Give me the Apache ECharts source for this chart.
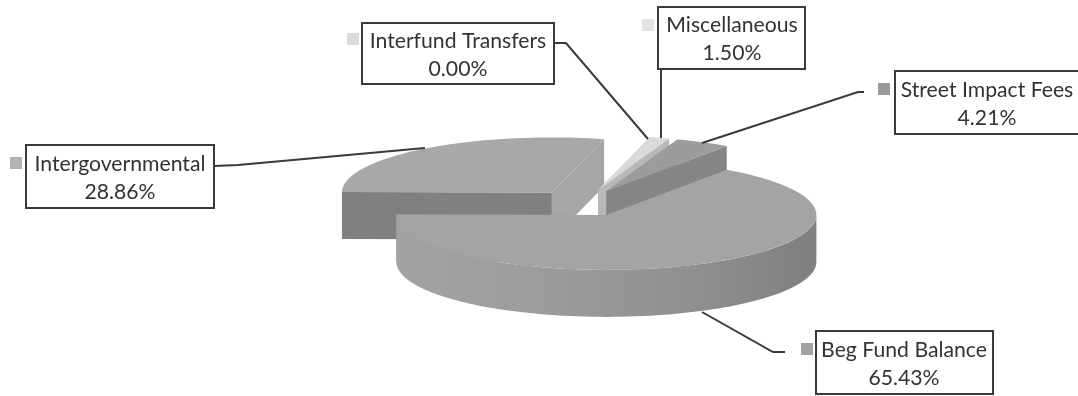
<!DOCTYPE html>
<html>
<head>
<meta charset="utf-8">
<style>html,body{margin:0;padding:0;background:#fff}#chart{width:1078px;height:396px}</style>
<script src="https://cdn.jsdelivr.net/npm/echarts@6/dist/echarts.min.js"></script>
</head>
<body>
<div id="chart"></div>
<script>
// Revenue sources, in the clockwise order they sit around the pie
const categories = ['Intergovernmental', 'Interfund Transfers', 'Miscellaneous', 'Street Impact Fees', 'Beg Fund Balance'];
const shares = [28.86, 0.00, 1.50, 4.21, 65.43];

// Tilted-pie projection
const pie = { cx: 583, cy: 203, rx: 210, ry: 55, depth: 47, explode: 0.243, firstAngle: 270.5 };

// Surface shades for each slice
const shades = [
  { top: '#a8a8a8', faceA: '#808080', faceB: '#a6a6a6', wall: '#8c8c8c', key: '#b2b2b2' },
  { top: '#dcdcdc', faceA: '#c4c4c4', faceB: '#c4c4c4', wall: '#c4c4c4', key: '#dadada' },
  { top: '#d9d9d9', faceA: '#b8b8b8', faceB: '#b8b8b8', wall: '#b8b8b8', key: '#e2e2e2' },
  { top: '#9c9c9c', faceA: '#8a8a8a', faceB: '#858585', wall: '#858585', key: '#9a9a9a' },
  { top: '#a4a4a4', faceA: '#8f8f8f', faceB: '#8f8f8f',
    wall: { type: 'linear', x: 0, y: 0, x2: 1, y2: 0, colorStops: [
      { offset: 0, color: '#a3a3a3' }, { offset: 0.35, color: '#9c9c9c' }, { offset: 0.7, color: '#909090' }, { offset: 1, color: '#7f7f7f' }
    ] }, key: '#a2a2a2' }
];

// Callout boxes, legend keys and leader lines
const callouts = [
  { box: [26, 145, 188, 63], key: [10, 157], textX: 120, leader: [[214, 166], [238, 165], [425, 148]] },
  { box: [362, 23, 192, 61], key: [347, 33], textX: 458, leader: [[554, 43], [566, 43], [648, 139]] },
  { box: [658, 7, 147, 62], key: [642, 19], textX: 732, leader: [[661, 69], [661, 138]] },
  { box: [895, 71, 192, 63], key: [878, 83], textX: 987, leader: [[702, 143], [858, 92], [864, 92]] },
  { box: [816, 331, 177, 63], key: [801, 343], textX: 904, leader: [[702, 312], [773, 352], [785, 352]] }
];

const total = shares.reduce((a, b) => a + b, 0);
const rad = d => d * Math.PI / 180;

// Screen position of an angle (clockwise from the top) on the ellipse around an apex
function rimPoint(apex, deg, drop) {
  return [apex[0] + pie.rx * Math.sin(rad(deg)), apex[1] - pie.ry * Math.cos(rad(deg)) + (drop || 0)];
}
function arcPoints(apex, from, to, drop) {
  const pts = [];
  const steps = Math.max(2, Math.ceil((to - from) / 2));
  for (let i = 0; i <= steps; i++) pts.push(rimPoint(apex, from + (to - from) * i / steps, drop));
  return pts;
}
function poly(points, fill) {
  return { type: 'polygon', shape: { points }, style: { fill, stroke: null } };
}

function renderSlice(params, api) {
  const i = params.dataIndex;
  const value = api.value(0);
  let before = 0;
  for (let k = 0; k < i; k++) before += shares[k];
  const from = pie.firstAngle + before / total * 360;
  const to = from + value / total * 360;
  const mid = (from + to) / 2;
  const apex = [
    pie.cx + pie.explode * pie.rx * Math.sin(rad(mid)),
    pie.cy - pie.explode * pie.ry * Math.cos(rad(mid))
  ];
  const s = shades[i];
  const c = callouts[i];
  const children = [];

  if (value > 0) {
    const a0 = rimPoint(apex, from), a1 = rimPoint(apex, to);
    const down = p => [p[0], p[1] + pie.depth];
    children.push(poly([apex, a0, down(a0), down(apex)], s.faceA));
    children.push(poly([apex, a1, down(a1), down(apex)], s.faceB));
    // Outer wall only shows on the near half of the ellipse
    for (const shift of [0, 360]) {
      const lo = Math.max(from, 90 + shift), hi = Math.min(to, 270 + shift);
      if (hi > lo) {
        children.push(poly(arcPoints(apex, lo, hi, 0).concat(arcPoints(apex, lo, hi, pie.depth).reverse()), s.wall));
      }
    }
    children.push(poly([apex].concat(arcPoints(apex, from, to, 0)), s.top));
  }

  // Leader, legend key, box and the two text lines
  children.push({
    type: 'polyline', z2: 20, shape: { points: c.leader },
    style: { stroke: '#3a3a3a', lineWidth: 2, fill: null }
  });
  children.push({
    type: 'rect', z2: 21, shape: { x: c.key[0], y: c.key[1], width: 12, height: 12 },
    style: { fill: s.key }
  });
  children.push({
    type: 'rect', z2: 21, shape: { x: c.box[0], y: c.box[1], width: c.box[2], height: c.box[3] },
    style: { fill: '#fff', stroke: '#3a3a3a', lineWidth: 2 }
  });
  const midY = c.box[1] + c.box[3] / 2;
  const font = '21.2px Lato, "Open Sans", sans-serif';
  children.push({
    type: 'text', z2: 22,
    style: { text: categories[i], x: c.textX, y: midY - 12.5, fill: '#333333', font, align: 'center', verticalAlign: 'middle' }
  });
  children.push({
    type: 'text', z2: 22,
    style: { text: value.toFixed(2) + '%', x: c.textX, y: midY + 15.5, fill: '#333333', font, align: 'center', verticalAlign: 'middle' }
  });
  return { type: 'group', children };
}

const chart = echarts.init(document.getElementById('chart'), null, { renderer: 'canvas' });
chart.setOption({
  animation: false,
  backgroundColor: '#fff',
  series: [{
    type: 'custom',
    coordinateSystem: 'none',
    renderItem: renderSlice,
    data: shares.map((v, i) => ({ name: categories[i], value: [v] }))
  }]
});
</script>
</body>
</html>
